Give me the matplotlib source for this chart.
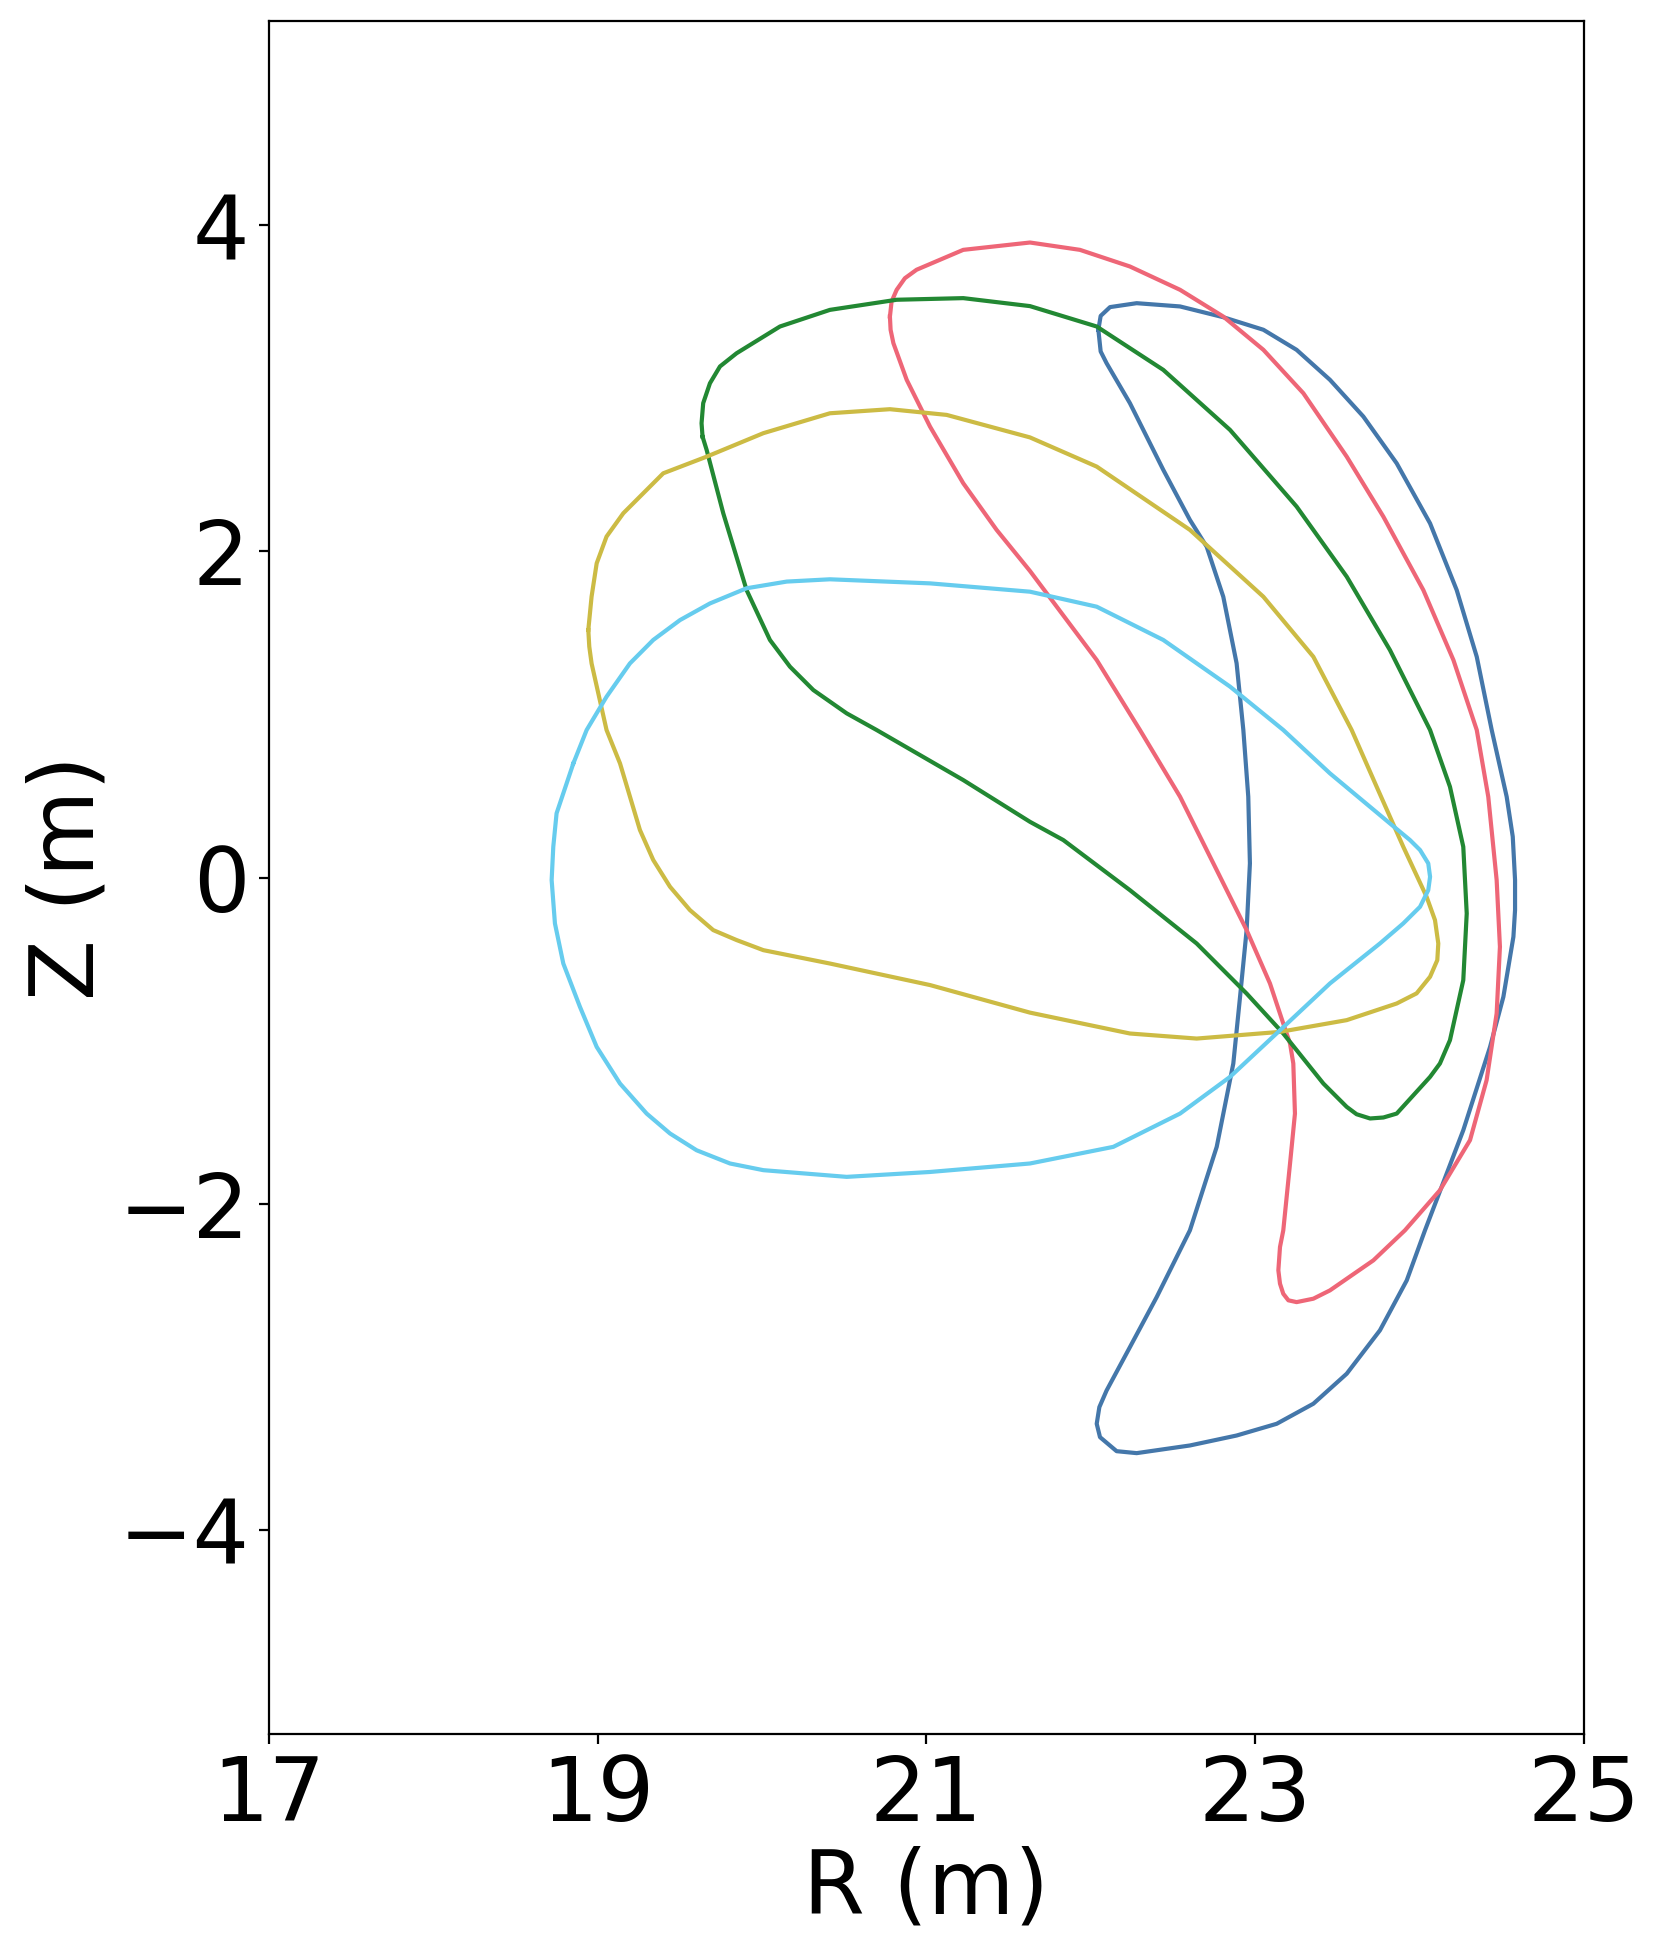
import matplotlib
matplotlib.use("Agg")
import matplotlib.pyplot as plt

# Cross-section outlines (R, Z in metres)
blue_R = [22.047, 22.061, 22.118, 22.280, 22.544, 22.807, 23.051, 23.253, 23.456, 23.659,
          23.862, 24.065, 24.227, 24.349, 24.440, 24.531, 24.568, 24.582, 24.582, 24.572,
          24.511, 24.430, 24.267, 24.034, 23.923, 23.760, 23.558, 23.355, 23.132, 22.888,
          22.604, 22.280, 22.158, 22.057, 22.037, 22.053, 22.097, 22.239, 22.402, 22.523,
          22.604, 22.767, 22.868, 22.909, 22.949, 22.969, 22.959, 22.929, 22.888, 22.807,
          22.706, 22.604, 22.442, 22.239, 22.097, 22.061]
blue_Z = [3.359, 3.444, 3.498, 3.522, 3.502, 3.436, 3.359, 3.236, 3.052, 2.827,
          2.540, 2.172, 1.763, 1.354, 0.905, 0.496, 0.251, -0.015, -0.199, -0.363,
          -0.731, -1.038, -1.549, -2.163, -2.470, -2.776, -3.042, -3.226, -3.349, -3.421,
          -3.482, -3.529, -3.517, -3.431, -3.349, -3.247, -3.145, -2.879, -2.572, -2.327,
          -2.163, -1.651, -1.140, -0.731, -0.322, 0.087, 0.496, 0.905, 1.314, 1.722,
          2.029, 2.193, 2.500, 2.909, 3.154, 3.226]

red_R = [20.779, 20.789, 20.820, 20.870, 20.941, 21.225, 21.631, 21.935, 22.239, 22.544,
         22.807, 23.051, 23.294, 23.558, 23.781, 24.024, 24.207, 24.349, 24.419, 24.470,
         24.490, 24.470, 24.409, 24.308, 24.125, 23.912, 23.720, 23.456, 23.355, 23.253,
         23.203, 23.172, 23.152, 23.142, 23.152, 23.172, 23.213, 23.243, 23.233, 23.213,
         23.172, 23.091, 22.949, 22.767, 22.544, 22.300, 22.037, 21.631, 21.428, 21.225,
         21.023, 20.881, 20.800, 20.783]
red_Z = [3.440, 3.532, 3.604, 3.675, 3.727, 3.849, 3.894, 3.849, 3.747, 3.604,
         3.440, 3.236, 2.970, 2.581, 2.213, 1.763, 1.334, 0.905, 0.496, -0.015,
         -0.424, -0.833, -1.242, -1.610, -1.917, -2.163, -2.347, -2.531, -2.582, -2.603,
         -2.592, -2.552, -2.490, -2.408, -2.265, -2.163, -1.754, -1.447, -1.140, -1.017,
         -0.895, -0.649, -0.322, 0.046, 0.496, 0.905, 1.334, 1.880, 2.132, 2.418,
         2.765, 3.052, 3.277, 3.359]

green_R = [19.639, 19.633, 19.643, 19.684, 19.745, 19.846, 20.110, 20.414, 20.820, 21.225,
           21.631, 22.037, 22.442, 22.848, 23.253, 23.558, 23.821, 24.065, 24.186, 24.267,
           24.288, 24.267, 24.186, 24.125, 24.065, 23.862, 23.781, 23.700, 23.618, 23.558,
           23.416, 23.172, 22.949, 22.645, 22.239, 21.834, 21.631, 21.225, 20.698, 20.516,
           20.313, 20.171, 20.049, 19.907, 19.765, 19.664]
green_Z = [2.704, 2.786, 2.909, 3.031, 3.134, 3.215, 3.379, 3.481, 3.543, 3.553,
           3.504, 3.379, 3.113, 2.745, 2.275, 1.845, 1.395, 0.905, 0.557, 0.189,
           -0.220, -0.629, -0.997, -1.140, -1.222, -1.447, -1.471, -1.477, -1.451, -1.406,
           -1.263, -0.956, -0.711, -0.404, -0.077, 0.230, 0.342, 0.598, 0.905, 1.007,
           1.150, 1.293, 1.457, 1.763, 2.234, 2.622]

yellow_R = [18.944, 18.964, 18.995, 19.055, 19.157, 19.400, 19.664, 20.009, 20.414, 20.779,
            21.124, 21.631, 22.037, 22.604, 23.051, 23.355, 23.588, 23.740, 23.902, 24.044,
            24.095, 24.115, 24.109, 24.065, 23.983, 23.862, 23.558, 23.152, 22.645, 22.239,
            21.631, 21.023, 20.414, 20.009, 19.846, 19.704, 19.562, 19.441, 19.339, 19.258,
            19.137, 19.055, 18.964, 18.950]
yellow_Z = [1.518, 1.723, 1.927, 2.091, 2.234, 2.479, 2.581, 2.725, 2.847, 2.872,
            2.837, 2.699, 2.520, 2.132, 1.722, 1.354, 0.905, 0.557, 0.189, -0.118,
            -0.261, -0.404, -0.506, -0.608, -0.710, -0.772, -0.874, -0.946, -0.987, -0.956,
            -0.828, -0.659, -0.527, -0.445, -0.383, -0.322, -0.199, -0.056, 0.108, 0.292,
            0.700, 0.905, 1.313, 1.416]

cyan_R = [18.853, 18.934, 19.055, 19.197, 19.339, 19.502, 19.684, 19.907, 20.151, 20.414,
          21.023, 21.631, 22.037, 22.442, 22.848, 23.172, 23.456, 23.821, 23.943, 24.004,
          24.054, 24.065, 24.054, 24.004, 23.902, 23.760, 23.456, 23.152, 22.848, 22.544,
          22.138, 21.631, 21.023, 20.516, 20.009, 19.806, 19.603, 19.441, 19.299, 19.137,
          18.995, 18.893, 18.792, 18.741, 18.721, 18.731, 18.751]
cyan_Z = [0.700, 0.905, 1.109, 1.313, 1.457, 1.579, 1.681, 1.774, 1.815, 1.829,
          1.804, 1.753, 1.661, 1.457, 1.171, 0.905, 0.639, 0.332, 0.230, 0.169,
          0.087, 0.005, -0.077, -0.179, -0.281, -0.404, -0.649, -0.936, -1.222, -1.447,
          -1.651, -1.753, -1.805, -1.835, -1.794, -1.753, -1.672, -1.569, -1.447, -1.263,
          -1.038, -0.792, -0.527, -0.281, -0.015, 0.189, 0.394]

curves = [
    (blue_R, blue_Z, "#4477AA"),
    (red_R, red_Z, "#EE6677"),
    (green_R, green_Z, "#228833"),
    (yellow_R, yellow_Z, "#CCBB44"),
    (cyan_R, cyan_Z, "#66CCEE"),
]

x_ticks = [17, 19, 21, 23, 25]
y_ticks = [-4, -2, 0, 2, 4]

plt.rcParams["font.family"] = ["DejaVu Sans"]
fig = plt.figure(figsize=(8.305, 9.8), dpi=200)
ax = fig.add_axes([0.1618, 0.1154, 0.7917, 0.8737])

for R, Z, c in curves:
    ax.plot(list(R) + [R[0]], list(Z) + [Z[0]], color=c, lw=1.5,
            solid_joinstyle="round")

ax.set_xlim(17, 25)
ax.set_ylim(-5.25, 5.25)
ax.set_xticks(x_ticks)
ax.set_yticks(y_ticks)
ax.tick_params(labelsize=32)
ax.set_xlabel("R (m)", fontsize=32, labelpad=2)
ax.set_ylabel("Z (m)", fontsize=32, labelpad=2)

fig.savefig("out.png", dpi=200)
